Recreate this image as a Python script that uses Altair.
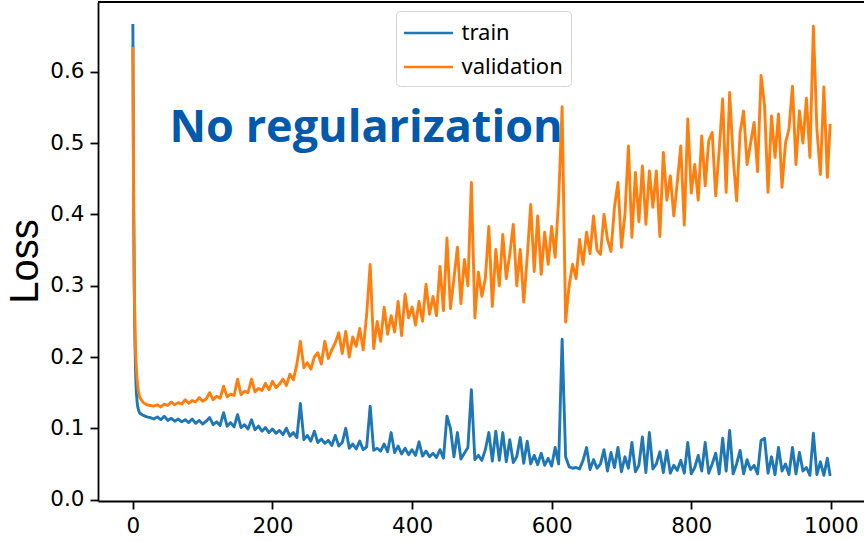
import altair as alt
import pandas as pd

# Epoch index: every epoch for the first ten, then every fifth epoch.
epochs = list(range(0, 11)) + list(range(15, 1000, 5)) + [999]

series_names = ["train", "validation"]
series_colors = ["#1f77b4", "#ff7f0e"]

train_loss = [
    0.667, 0.45, 0.30, 0.22, 0.175, 0.150, 0.138, 0.130, 0.126, 0.123, 0.121,
    0.118, 0.116, 0.115, 0.113, 0.116, 0.112, 0.117,
    0.111, 0.114, 0.110, 0.113, 0.109, 0.112, 0.108, 0.113, 0.107, 0.111,
    0.106, 0.110, 0.115, 0.105, 0.109, 0.104, 0.122, 0.103, 0.108, 0.102,
    0.119, 0.101, 0.105, 0.099, 0.112, 0.098, 0.103, 0.096, 0.101, 0.094,
    0.099, 0.093, 0.097, 0.091, 0.100, 0.089, 0.094, 0.087, 0.135, 0.084,
    0.090, 0.082, 0.096, 0.080, 0.085, 0.079, 0.083, 0.076, 0.090, 0.075,
    0.080, 0.100, 0.072, 0.078, 0.071, 0.082, 0.070, 0.074, 0.131, 0.069,
    0.072, 0.068, 0.078, 0.067, 0.094, 0.066, 0.075, 0.064, 0.072, 0.063,
    0.070, 0.062, 0.081, 0.061, 0.068, 0.060, 0.065, 0.059, 0.070, 0.058,
    0.117, 0.100, 0.060, 0.094, 0.057, 0.065, 0.073, 0.154, 0.056, 0.062,
    0.055, 0.070, 0.094, 0.054, 0.096, 0.055, 0.094, 0.053, 0.084, 0.052,
    0.060, 0.087, 0.051, 0.082, 0.050, 0.062, 0.049, 0.065, 0.048, 0.058,
    0.047, 0.073, 0.050, 0.225, 0.060, 0.046, 0.044, 0.045, 0.043, 0.055,
    0.073, 0.042, 0.056, 0.044, 0.050, 0.070, 0.040, 0.066, 0.045, 0.073,
    0.039, 0.060, 0.044, 0.080, 0.039, 0.048, 0.088, 0.038, 0.094, 0.043,
    0.050, 0.067, 0.038, 0.069, 0.037, 0.048, 0.041, 0.055, 0.037, 0.080,
    0.036, 0.045, 0.062, 0.040, 0.080, 0.037, 0.050, 0.065, 0.036, 0.086,
    0.040, 0.097, 0.036, 0.050, 0.069, 0.036, 0.056, 0.042, 0.048, 0.036,
    0.083, 0.086, 0.037, 0.060, 0.035, 0.073, 0.040, 0.050, 0.035, 0.073,
    0.036, 0.066, 0.040, 0.045, 0.034, 0.093, 0.035, 0.053, 0.034, 0.058,
    0.033,
]

validation_loss = [
    0.635, 0.42, 0.30, 0.24, 0.205, 0.185, 0.170, 0.160, 0.152, 0.147, 0.143,
    0.136, 0.133, 0.132, 0.131, 0.133, 0.130, 0.134,
    0.132, 0.137, 0.133, 0.136, 0.134, 0.140, 0.135, 0.139, 0.137, 0.143,
    0.138, 0.141, 0.150, 0.140, 0.145, 0.142, 0.159, 0.144, 0.148, 0.146,
    0.169, 0.147, 0.152, 0.150, 0.169, 0.151, 0.156, 0.153, 0.163, 0.154,
    0.166, 0.157, 0.162, 0.169, 0.160, 0.176, 0.168, 0.190, 0.222, 0.185,
    0.192, 0.183, 0.200, 0.206, 0.190, 0.222, 0.198, 0.210, 0.220, 0.234,
    0.205, 0.236, 0.200, 0.228, 0.215, 0.240, 0.210, 0.260, 0.330, 0.212,
    0.250, 0.222, 0.270, 0.232, 0.258, 0.235, 0.278, 0.230, 0.288, 0.255,
    0.270, 0.245, 0.278, 0.250, 0.302, 0.260, 0.285, 0.258, 0.327, 0.265,
    0.367, 0.268, 0.310, 0.354, 0.275, 0.337, 0.300, 0.445, 0.255, 0.319,
    0.285, 0.310, 0.383, 0.271, 0.351, 0.300, 0.372, 0.310, 0.344, 0.386,
    0.300, 0.351, 0.277, 0.340, 0.414, 0.320, 0.398, 0.316, 0.375, 0.330,
    0.383, 0.340, 0.420, 0.551, 0.249, 0.300, 0.330, 0.310, 0.365, 0.330,
    0.375, 0.345, 0.398, 0.350, 0.344, 0.400, 0.365, 0.348, 0.410, 0.445,
    0.354, 0.400, 0.496, 0.368, 0.459, 0.390, 0.468, 0.386, 0.461, 0.410,
    0.461, 0.369, 0.487, 0.420, 0.454, 0.398, 0.445, 0.496, 0.385, 0.534,
    0.430, 0.470, 0.420, 0.510, 0.440, 0.503, 0.515, 0.426, 0.490, 0.562,
    0.431, 0.571, 0.480, 0.419, 0.515, 0.545, 0.470, 0.500, 0.529, 0.460,
    0.595, 0.553, 0.431, 0.538, 0.480, 0.541, 0.438, 0.500, 0.520, 0.580,
    0.470, 0.545, 0.500, 0.563, 0.480, 0.664, 0.520, 0.456, 0.579, 0.452,
    0.527,
]

x_ticks = [0, 200, 400, 600, 800, 1000]
y_ticks = [0.0, 0.1, 0.2, 0.3, 0.4, 0.5, 0.6]

note_text = "No regularization"
note_epoch = 52.5
note_loss = 0.502

rows = []
for name, values in zip(series_names, [train_loss, validation_loss]):
    for e, v in zip(epochs, values):
        rows.append({"epoch": e, "loss": v, "series": name})
df = pd.DataFrame(rows)

note_df = pd.DataFrame([{"epoch": note_epoch, "loss": note_loss, "label": note_text}])

W, H = 766, 499

x_scale = alt.Scale(domain=[-49.95, 1047.5], nice=False, zero=False)
y_scale = alt.Scale(domain=[-0.002, 0.698], nice=False, zero=False)

lines = alt.Chart(df).mark_line(strokeWidth=2.9, strokeJoin="round").encode(
    x=alt.X("epoch:Q", scale=x_scale, title="",
            axis=alt.Axis(values=x_ticks, format="d", labelPadding=6)),
    y=alt.Y("loss:Q", scale=y_scale, title="Loss",
            axis=alt.Axis(values=y_ticks, format=".1f", labelPadding=6,
                          titleX=-61, titleY=259, titleAngle=270,
                          titleBaseline="alphabetic", titleAlign="center",
                          titleFont="Liberation Sans", titleFontSize=40,
                          titleFontWeight="normal", titleColor="black")),
    color=alt.Color(
        "series:N",
        scale=alt.Scale(domain=series_names, range=series_colors),
        legend=alt.Legend(
            title=None, orient="none", legendX=298, legendY=9,
            symbolType="M-2,0H2", symbolSize=600, symbolStrokeWidth=2.7,
            symbolOffset=10.5, labelOffset=19, rowPadding=9, padding=8,
            labelFont="Noto Sans", labelFontSize=22, labelColor="black",
            labelLimit=300, strokeColor="#d4d4d4", fillColor="white",
            cornerRadius=4,
        ),
    ),
)

top_spine = alt.Chart(note_df).mark_rule(color="black", strokeWidth=1.8).encode(
    x=alt.value(0), x2=alt.value(W), y=alt.value(0)
)

note = alt.Chart(note_df).mark_text(
    font="Open Sans", fontSize=45, fontWeight="bold", color="#0059AA",
    align="left", baseline="alphabetic",
).encode(
    x=alt.X("epoch:Q", scale=x_scale, title=""),
    y=alt.Y("loss:Q", scale=y_scale, title="Loss"),
    text="label:N",
)

chart = alt.layer(lines, top_spine, note).properties(
    width=W, height=H,
    padding={"left": 98, "top": 2, "right": 0, "bottom": 40},
    autosize=alt.AutoSizeParams(type="none"),
    background="white",
).configure_view(stroke=None).configure_axis(
    grid=False,
    domainColor="black", domainWidth=1.8,
    tickColor="black", tickWidth=1.8, tickSize=8,
    labelColor="black", labelFont="DejaVu Sans", labelFontSize=21.5,
)

chart.save("out.html", embed_options={"renderer": "svg", "actions": False})
